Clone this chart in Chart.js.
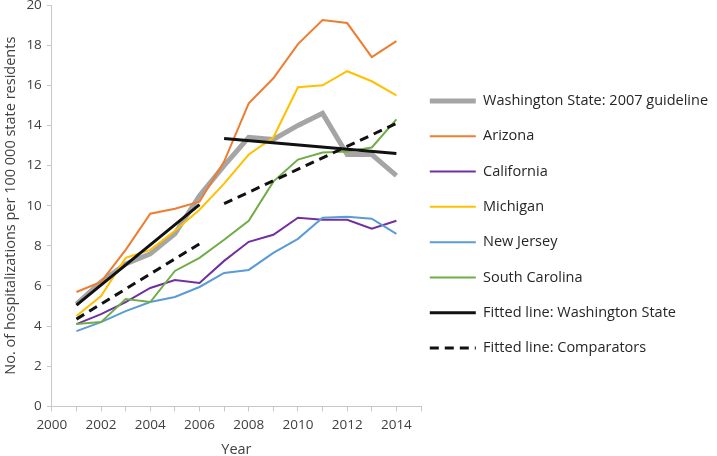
<!DOCTYPE html>
<html lang="en">
<head>
    <meta charset="UTF-8">
    <title>Hospitalizations</title>
    <style>
        body {
            margin: 0;
            padding: 0;
            background: #fff;
        }
        #wrap {
            width: 717px;
            height: 456px;
        }
    </style>
    <script src="https://cdn.jsdelivr.net/npm/chart.js"></script>
</head>
<body>
    <div id="wrap"><canvas id="chart"></canvas></div>
    <script>
        const years = [2001, 2002, 2003, 2004, 2005, 2006, 2007, 2008, 2009, 2010, 2011, 2012, 2013, 2014];
        const washington = [5.1, 6.2, 7.1, 7.6, 8.6, 10.5, 12.0, 13.4, 13.3, 14.0, 14.6, 12.55, 12.55, 11.5];
        const arizona = [5.7, 6.2, 7.8, 9.6, 9.85, 10.2, 12.2, 15.1, 16.35, 18.05, 19.25, 19.1, 17.4, 18.2];
        const california = [4.1, 4.6, 5.2, 5.9, 6.3, 6.15, 7.25, 8.2, 8.55, 9.4, 9.3, 9.3, 8.85, 9.25];
        const michigan = [4.5, 5.5, 7.4, 7.8, 8.75, 9.8, 11.1, 12.55, 13.4, 15.9, 16.0, 16.7, 16.2, 15.5];
        const newJersey = [3.75, 4.2, 4.75, 5.2, 5.45, 5.95, 6.65, 6.8, 7.65, 8.35, 9.4, 9.45, 9.35, 8.6];
        const southCarolina = [4.1, 4.2, 5.35, 5.2, 6.75, 7.4, 8.3, 9.25, 11.2, 12.3, 12.65, 12.7, 12.9, 14.3];
        // fitted lines: separate segments before and after the 2007 guideline
        const fitYears = [2001, 2006, 2006.5, 2007, 2014];
        const fitWashington = [5.05, 10.05, null, 13.35, 12.6];
        const fitComparators = [4.35, 8.1, null, 10.1, 14.1];

        function pts(xs, ys) {
            return xs.map((x, i) => ({ x: x, y: ys[i] }));
        }

        const FAMILY = 'Open Sans, sans-serif';
        const tickFont = { family: FAMILY, size: 13.5 };
        const labelFont = { family: FAMILY, size: 14.5 };

        // nudge the legend left/up so its samples sit just right of the plot
        const legendShift = {
            id: 'legendShift',
            afterLayout(chart) {
                const lg = chart.legend;
                lg.left -= 12;
                lg.width += 12;
                lg.top -= 6;
                lg.bottom -= 6;
            }
        };

        const ctx = document.getElementById('chart').getContext('2d');
        new Chart(ctx, {
            type: 'line',
            data: {
                datasets: [
                    { label: 'Washington State: 2007 guideline', data: pts(years, washington), borderColor: '#a5a5a5', borderWidth: 5, order: 7 },
                    { label: 'Arizona', data: pts(years, arizona), borderColor: '#ed7d31', borderWidth: 2, order: 6 },
                    { label: 'California', data: pts(years, california), borderColor: '#7030a0', borderWidth: 2, order: 5 },
                    { label: 'Michigan', data: pts(years, michigan), borderColor: '#ffc000', borderWidth: 2, order: 4 },
                    { label: 'New Jersey', data: pts(years, newJersey), borderColor: '#5b9bd5', borderWidth: 2, order: 3 },
                    { label: 'South Carolina', data: pts(years, southCarolina), borderColor: '#70ad47', borderWidth: 2, order: 2 },
                    { label: 'Fitted line: Washington State', data: pts(fitYears, fitWashington), borderColor: '#111', borderWidth: 3, order: 1 },
                    { label: 'Fitted line: Comparators', data: pts(fitYears, fitComparators), borderColor: '#111', borderWidth: 3, borderDash: [9, 6], order: 0 }
                ]
            },
            options: {
                responsive: true,
                maintainAspectRatio: false,
                animation: false,
                spanGaps: false,
                elements: {
                    point: { radius: 0 },
                    line: { tension: 0, fill: false, borderCapStyle: 'butt' }
                },
                layout: { padding: { top: 5, right: 0, left: 0, bottom: 0 } },
                plugins: {
                    tooltip: { enabled: false },
                    legend: {
                        position: 'right',
                        maxWidth: 296,
                        labels: {
                            usePointStyle: true,
                            pointStyle: 'line',
                            pointStyleWidth: 46,
                            padding: 20.8,
                            color: '#262626',
                            font: labelFont,
                            sort: (a, b) => a.datasetIndex - b.datasetIndex,
                            generateLabels(chart) {
                                const items = Chart.defaults.plugins.legend.labels.generateLabels(chart);
                                items.forEach(it => {
                                    const ds = chart.data.datasets[it.datasetIndex];
                                    it.lineDash = ds.borderDash || [];
                                    it.lineWidth = ds.borderWidth;
                                    it.strokeStyle = ds.borderColor;
                                });
                                return items;
                            }
                        }
                    }
                },
                scales: {
                    x: {
                        type: 'linear',
                        min: 2000,
                        max: 2015,
                        grid: { drawOnChartArea: false, color: '#c8c8c8', tickLength: 5 },
                        border: { color: '#c8c8c8' },
                        ticks: {
                            stepSize: 1,
                            autoSkip: false,
                            maxRotation: 0,
                            color: '#404040',
                            font: tickFont,
                            padding: 6,
                            callback: v => (v % 2 === 0 && v < 2015) ? String(v) : ''
                        },
                        title: { display: true, text: 'Year', color: '#404040', font: labelFont, padding: { top: 2, bottom: -3 } }
                    },
                    y: {
                        min: 0,
                        max: 20,
                        afterFit(scale) { scale.paddingTop = 0; },
                        grid: { drawOnChartArea: false, color: '#c8c8c8', tickLength: 5 },
                        border: { color: '#c8c8c8' },
                        ticks: { stepSize: 2, color: '#404040', font: tickFont, padding: 5 },
                        title: { display: true, text: 'No. of hospitalizations per 100 000 state residents', color: '#404040', font: labelFont, padding: 2 }
                    }
                }
            },
            plugins: [legendShift]
        });
    </script>
</body>
</html>
